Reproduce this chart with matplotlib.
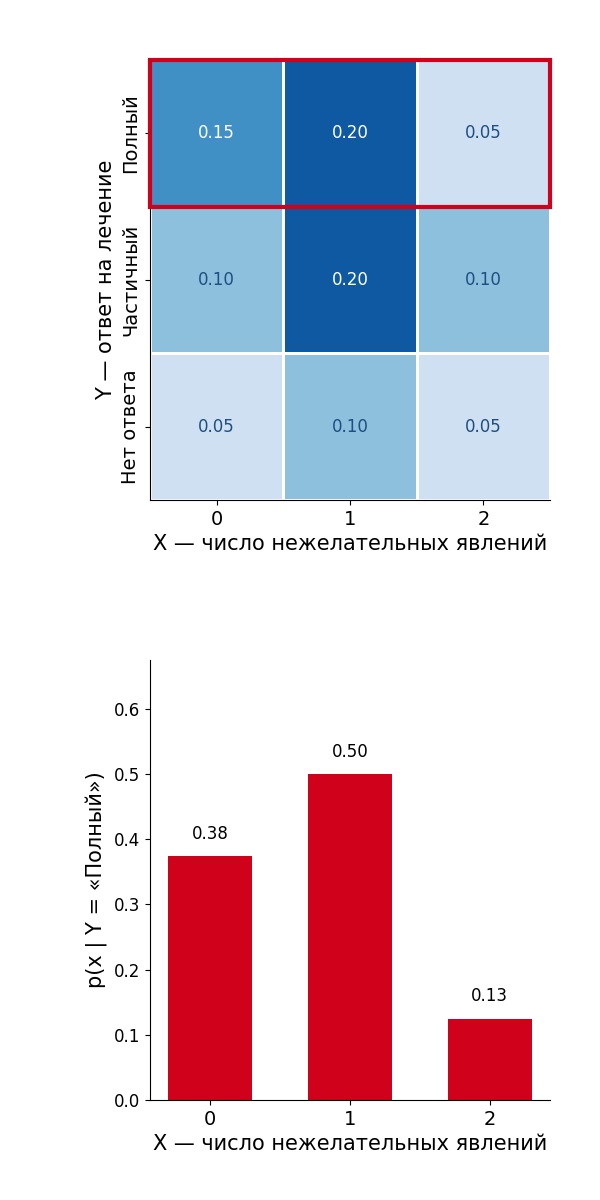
import numpy as np
import matplotlib
matplotlib.use("Agg")
import matplotlib.pyplot as plt
from matplotlib.patches import Rectangle

plt.rcParams['font.family'] = ['DejaVu Sans']

x_vals = [0, 1, 2]
y_labels = ["Полный", "Частичный", "Нет ответа"]
joint = [
    [0.15, 0.20, 0.05],
    [0.10, 0.20, 0.10],
    [0.05, 0.10, 0.05],
]
cond_vals = [0.375, 0.5, 0.125]
cond_labels = ["0.38", "0.50", "0.13"]

RED = "#d0021b"

fig = plt.figure(figsize=(6, 12), dpi=100)

# Heatmap
ax1 = fig.add_axes([150/600, 1 - 500/1200, 400/600, 440/1200])
J = np.array(joint)
xe = np.arange(len(x_vals) + 1) - 0.5
ye = np.arange(len(y_labels) + 1) - 0.5
cmap = plt.get_cmap("Blues")
ax1.pcolormesh(xe, ye, J, cmap=cmap, vmin=0, vmax=0.238,
               edgecolors="white", linewidth=2)
ax1.set_xlim(-0.5, 2.5)
ax1.set_ylim(2.5, -0.5)
for i in range(J.shape[0]):
    for j in range(J.shape[1]):
        v = J[i, j]
        col = "white" if v >= 0.15 else "#1f4f80"
        ax1.text(x_vals[j], i, f"{v:.2f}", ha="center", va="center",
                 fontsize=12, color=col)
ax1.set_xticks(x_vals)
ax1.set_xticklabels([str(x) for x in x_vals], fontsize=14)
ax1.set_yticks(range(len(y_labels)))
ax1.set_yticklabels(y_labels, rotation=90, va="center", fontsize=14)
ax1.set_xlabel("X — число нежелательных явлений", fontsize=15)
ax1.set_ylabel("Y — ответ на лечение", fontsize=15)
ax1.spines["top"].set_visible(False)
ax1.spines["right"].set_visible(False)
ax1.add_patch(Rectangle((-0.5, -0.5), 3, 1, fill=False, edgecolor=RED,
                        linewidth=3, clip_on=False, zorder=5))

# Bar chart
ax2 = fig.add_axes([150/600, 100/1200, 400/600, 440/1200])
ax2.bar(x_vals, cond_vals, width=0.6, color=RED)
for xv, v, lab in zip(x_vals, cond_vals, cond_labels):
    ax2.text(xv, v + 0.02, lab, ha="center", va="bottom", fontsize=12)
ax2.set_ylim(0, 0.675)
ax2.set_xticks(x_vals)
ax2.set_xticklabels([str(x) for x in x_vals], fontsize=14)
ax2.tick_params(axis="y", labelsize=12)
ax2.set_xlabel("X — число нежелательных явлений", fontsize=15)
ax2.set_ylabel("p(x | Y = «Полный»)", fontsize=15)
ax2.spines["top"].set_visible(False)
ax2.spines["right"].set_visible(False)

fig.savefig("out.png", dpi=100)
